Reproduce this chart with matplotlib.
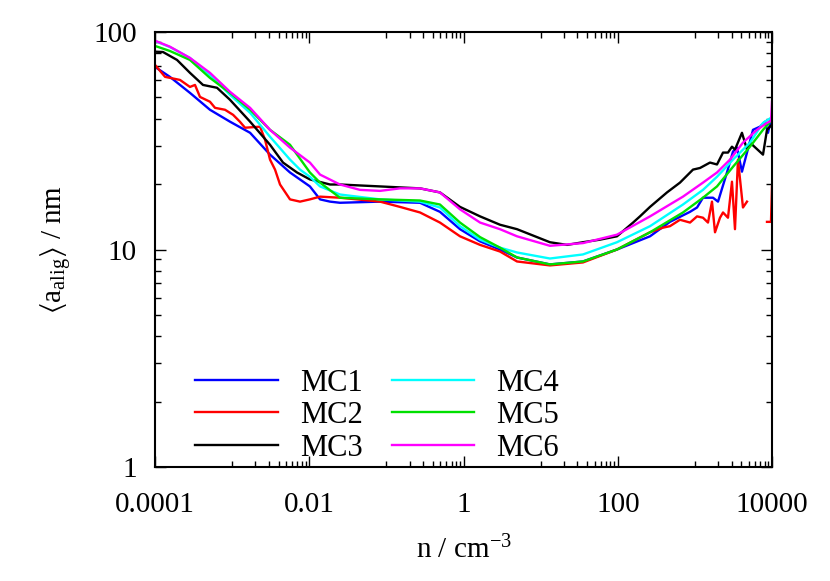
'''
Mean alignment length vs density for MC1..MC6
'''

import numpy as np
import matplotlib
matplotlib.use('Agg')
import matplotlib.pyplot as plt
from matplotlib.ticker import FixedLocator, NullFormatter, FixedFormatter

plt.rcParams['font.family'] = ['Liberation Serif', 'DejaVu Serif']
plt.rcParams['mathtext.fontset'] = 'custom'
plt.rcParams['mathtext.rm'] = 'Liberation Serif'
plt.rcParams['mathtext.it'] = 'Liberation Serif:italic'
plt.rcParams['mathtext.fallback'] = 'stix'

# data
n_mc1 = [1e-4, 1.56e-4, 2.84e-4, 5.16e-4, 9.38e-4, 1.71e-3, 3.10e-3, 5.63e-3, 1.02e-2, 1.38e-2,
         1.86e-2, 2.50e-2, 8.27e-2, 0.273, 0.495, 0.901, 1.64, 2.97, 4.94, 13.2,
         35.4, 97.7, 262, 475, 865, 1067, 1274, 1718, 1995, 2608,
         3119, 3515, 4079, 4739, 5670, 6989, 8113, 8870, 9700, 10000]
a_mc1 = [69.1, 62.2, 52.5, 43.9, 38.7, 34.4, 27.3, 22.6, 19.5, 17.0,
         16.6, 16.4, 16.6, 16.4, 14.9, 12.4, 10.9, 10.0, 9.19, 8.54,
         8.81, 10.0, 11.5, 13.4, 14.9, 15.6, 17.3, 17.3, 16.6, 22.6,
         28.2, 29.4, 22.8, 27.9, 35.5, 36.7, 38.7, 34.4, 39.5, 38.0]

n_mc2 = [1e-4, 1.35e-4, 2.11e-4, 2.84e-4, 3.30e-4, 3.83e-4, 5.16e-4, 6.00e-4, 8.09e-4, 1.03e-3,
         1.26e-3, 1.47e-3, 2.30e-3, 2.67e-3, 3.10e-3, 3.60e-3, 4.18e-3, 5.63e-3, 7.59e-3, 1.02e-2,
         1.38e-2, 2.50e-2, 8.27e-2, 0.150, 0.273, 0.495, 0.901, 1.64, 2.97, 4.94,
         13.2, 35.4, 97.7, 262, 386, 475, 641, 865, 1067, 1274,
         1479, 1667, 1824, 2117, 2316, 2687, 3027, 3311, 3620, 4204,
         4739, 6000, 8611, 9700, 10000]
a_mc2 = [70.6, 62.2, 60.2, 55.9, 57.1, 50.3, 47.8, 44.8, 43.9, 41.6,
         38.7, 36.3, 36.7, 32.0, 25.9, 23.3, 19.9, 17.0, 16.6, 17.0,
         17.5, 17.3, 16.6, 15.7, 14.8, 13.3, 11.5, 10.5, 9.79, 8.81,
         8.45, 8.72, 10.0, 12.0, 12.6, 12.8, 13.7, 13.3, 14.2, 14.0,
         13.3, 16.6, 12.0, 14.0, 14.8, 14.0, 20.5, 12.4, 25.9, 15.6,
         16.6, np.nan, 13.4, 13.4, 19.5]

n_mc3 = [1e-4, 1.27e-4, 1.93e-4, 2.84e-4, 4.19e-4, 6.37e-4, 9.38e-4, 1.71e-3, 3.10e-3, 4.57e-3,
         6.94e-3, 1.02e-2, 1.86e-2, 2.50e-2, 8.27e-2, 0.273, 0.495, 0.901, 1.64, 2.97,
         4.94, 13.2, 22.0, 35.4, 58.9, 97.7, 158, 194, 262, 435,
         641, 946, 1165, 1570, 1936, 2316, 2687, 3027, 3311, 4079,
         4739, 5183, 7643, 8611, 10000]
a_mc3 = [81.2, 80.9, 74.4, 64.9, 57.1, 55.4, 48.8, 38.7, 30.3, 25.1,
         22.6, 21.0, 19.9, 19.9, 19.5, 19.1, 18.3, 15.7, 14.2, 13.0,
         12.4, 10.8, 10.5, 10.8, 11.1, 11.5, 13.3, 14.2, 15.7, 18.3,
         20.3, 23.3, 23.7, 25.1, 24.6, 27.9, 27.9, 29.7, 28.8, 34.4,
         28.8, 31.0, 27.3, 35.5, 37.5]

n_mc4 = [1e-4, 1.56e-4, 2.84e-4, 5.16e-4, 9.38e-4, 1.71e-3, 3.10e-3, 5.63e-3, 7.59e-3, 1.02e-2,
         1.38e-2, 2.50e-2, 8.27e-2, 0.273, 0.495, 0.901, 1.64, 2.97, 4.94, 13.2,
         35.4, 97.7, 262, 701, 1274, 1936, 3119, 5183, 7643, 10000]
a_mc4 = [90.9, 85.3, 76.0, 63.5, 51.4, 42.5, 33.0, 25.9, 23.3, 21.6,
         19.5, 17.9, 17.0, 16.6, 15.6, 12.8, 11.1, 10.2, 9.69, 9.09,
         9.49, 10.8, 12.8, 16.1, 18.8, 21.6, 25.9, 31.0, 38.2, 40.6]

n_mc5 = [1e-4, 1.56e-4, 2.84e-4, 5.16e-4, 9.38e-4, 1.71e-3, 3.10e-3, 5.63e-3, 1.02e-2, 1.38e-2,
         2.50e-2, 8.27e-2, 0.273, 0.495, 0.901, 1.64, 2.97, 4.94, 13.2, 35.4,
         97.7, 262, 701, 1274, 1936, 3119, 5183, 7643, 10000]
a_mc5 = [86.3, 81.8, 74.4, 61.5, 52.5, 43.9, 35.5, 30.3, 22.6, 20.3,
         17.3, 17.0, 16.8, 16.1, 13.3, 11.4, 10.2, 9.19, 8.54, 8.81,
         10.0, 12.0, 14.8, 17.3, 19.5, 24.0, 29.7, 35.5, 39.5]

n_mc6 = [1e-4, 1.56e-4, 2.84e-4, 5.16e-4, 9.38e-4, 1.71e-3, 3.10e-3, 5.63e-3, 1.02e-2, 1.38e-2,
         2.50e-2, 4.55e-2, 8.27e-2, 0.150, 0.273, 0.495, 0.901, 1.64, 2.97, 4.94,
         13.2, 35.4, 97.7, 262, 701, 1274, 1936, 2851, 4204, 6392,
         8611, 9700, 10000]
a_mc6 = [91.2, 85.6, 76.0, 64.9, 53.1, 44.8, 35.5, 29.4, 25.1, 22.1,
         19.9, 18.8, 18.6, 19.1, 19.1, 18.3, 15.3, 13.3, 12.4, 11.5,
         10.4, 10.7, 11.7, 14.2, 17.5, 20.3, 22.6, 25.9, 31.0, 35.5,
         38.2, 39.0, 47.8]

series = [
    ('MC1', n_mc1, a_mc1, '#0000ff'),
    ('MC2', n_mc2, a_mc2, '#ff0000'),
    ('MC3', n_mc3, a_mc3, '#000000'),
    ('MC4', n_mc4, a_mc4, '#00ffff'),
    ('MC5', n_mc5, a_mc5, '#00e000'),
    ('MC6', n_mc6, a_mc6, '#ff00ff'),
]

fig = plt.figure(figsize=(8.3, 5.81), dpi=100)
ax = fig.add_axes([155 / 830, 114 / 581, 617 / 830, 435 / 581])

for label, n, a, color in series:
    ax.plot(n, a, color=color, lw=1.7, label=label)

ax.set_xscale('log')
ax.set_yscale('log')
ax.set_xlim(1e-4, 1e4)
ax.set_ylim(1, 100)

x_major = [1e-4, 1e-2, 1, 100, 1e4]
x_labels = ['0.0001', '0.01', '1', '100', '10000']
ax.xaxis.set_major_locator(FixedLocator(x_major))
ax.xaxis.set_major_formatter(FixedFormatter(x_labels))
ax.xaxis.set_minor_locator(FixedLocator([m * 10.0 ** k for k in (-3, -1, 1, 3) for m in range(1, 10)]))
ax.xaxis.set_minor_formatter(NullFormatter())

ax.yaxis.set_major_locator(FixedLocator([1, 10, 100]))
ax.yaxis.set_major_formatter(FixedFormatter(['1', '10', '100']))
ax.yaxis.set_minor_locator(FixedLocator([m * 10.0 ** k for k in (0, 1) for m in range(2, 10)]))
ax.yaxis.set_minor_formatter(NullFormatter())

ax.tick_params(which='both', direction='in', top=True, right=True, labelsize=21, width=1)
ax.tick_params(which='major', length=8)
ax.tick_params(which='minor', length=4)
ax.tick_params(axis='x', which='major', pad=18)
ax.tick_params(axis='y', which='major', pad=13)
for s in ax.spines.values():
    s.set_linewidth(1.5)

ax.set_xlabel(r'n / cm$^{-3}$', fontsize=21, labelpad=13)
ax.set_ylabel(r'$\langle$a$_{\rm alig}\rangle$ / nm', fontsize=21, labelpad=14)

ax.legend(ncol=2, loc='lower left', bbox_to_anchor=(0.026, -0.046), frameon=False,
          fontsize=22, handlelength=2.7, handletextpad=0.72, columnspacing=0.95,
          labelspacing=0.115, borderpad=0.3)

plt.savefig('out.png', dpi=100)
